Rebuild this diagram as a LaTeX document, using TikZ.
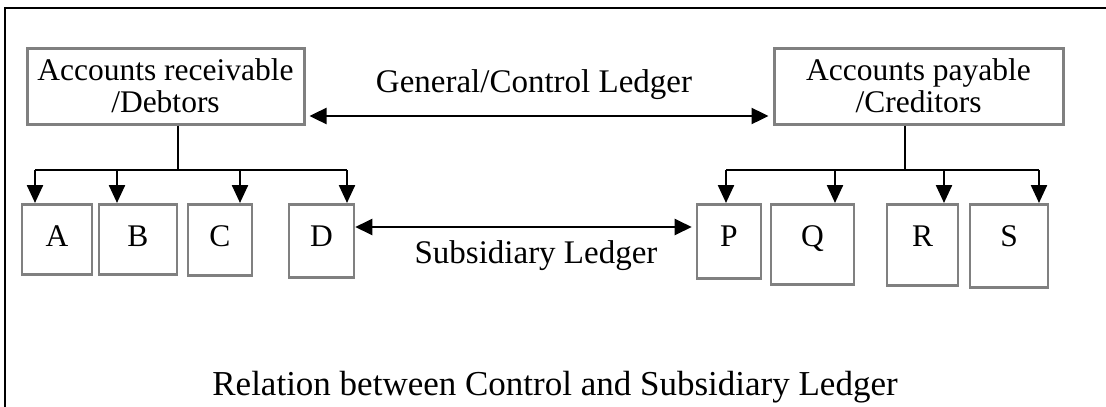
\documentclass[tikz,border=0pt]{standalone}
\usepackage{fontspec}
\setmainfont{Liberation Serif}
\usetikzlibrary{arrows.meta,calc}
\definecolor{boxgray}{RGB}{128,128,128}
\newcommand{\ledgersize}{\fontsize{31.5}{32}\selectfont}
\newcommand{\headsize}{\fontsize{33}{36}\selectfont}
\newcommand{\titlesize}{\fontsize{35}{38}\selectfont}

\begin{document}
\begin{tikzpicture}[x=1pt,y=-1pt,
	account/.style={draw=boxgray, line width=3pt, align=center, font=\ledgersize, inner sep=0pt, minimum height=76pt},
	party/.style={draw=boxgray, line width=2.6pt, anchor=north, inner sep=0pt, font=\ledgersize, text height=42pt, text depth=#1},
	link/.style={line width=2.4pt},
	tip/.style={link, -{Triangle[length=18pt,width=16pt]}},
	both/.style={link, {Triangle[length=17pt,width=16pt]}-{Triangle[length=17pt,width=16pt]}}]
	\useasboundingbox (0,0) rectangle (1106,407);
	\draw[line width=2.4pt] (5,407) -- (5,8) -- (1106,8);

	\node[account, minimum width=277pt] (AR) at (165.5,86) {Accounts receivable\\/Debtors};
	\node[account, minimum width=289pt] (AP) at (918.5,86) {Accounts payable\\/Creditors};
	\node[anchor=base, font=\headsize] (gl) at (534,92) {General/Control Ledger};

	\node[party=28pt, minimum width=70pt] (A) at (57,203) {A};
	\node[party=28pt, minimum width=78pt] (B) at (138,203) {B};
	\node[party=29pt, minimum width=64pt] (C) at (220,203) {C};
	\node[party=31pt, minimum width=65pt] (D) at (321.5,203) {D};
	\node[party=32pt, minimum width=64pt] (P) at (729,203) {P};
	\node[party=38pt, minimum width=83pt] (Q) at (812.5,203) {Q};
	\node[party=39pt, minimum width=71pt] (R) at (922.5,203) {R};
	\node[party=41pt, minimum width=78pt] (S) at (1009,203) {S};
	\node[anchor=base, font=\headsize] (sl) at (536,263) {Subsidiary Ledger};

	\node[anchor=base, font=\titlesize] (title) at (555,395) {Relation between Control and Subsidiary Ledger};

	% debtors side
	\coordinate (rbus) at (35,170);
	\draw[link] ([xshift=12.5pt]AR.south) -- ([xshift=12.5pt]AR.south |- rbus);
	\draw[link] (rbus) -- (347,170);
	\foreach \x/\n in {35/A,117/B,240/C,347/D}
		\draw[tip] (\x,170) -- (\x,170 |- \n.north);

	% creditors side
	\coordinate (pbus) at (726,170);
	\draw[link] ([xshift=-13.5pt]AP.south) -- ([xshift=-13.5pt]AP.south |- pbus);
	\draw[link] (pbus) -- (1039,170);
	\foreach \x/\n in {726/P,835/Q,944/R,1039/S}
		\draw[tip] (\x,170) -- (\x,170 |- \n.north);

	\draw[both] ([xshift=4pt,yshift=-30pt]AR.east) -- ([xshift=-4pt,yshift=-30pt]AP.west);
	\coordinate (sub) at (0,227);
	\draw[both] (D.east |- sub) -- ([xshift=-4pt]P.west |- sub);
\end{tikzpicture}
\end{document}
